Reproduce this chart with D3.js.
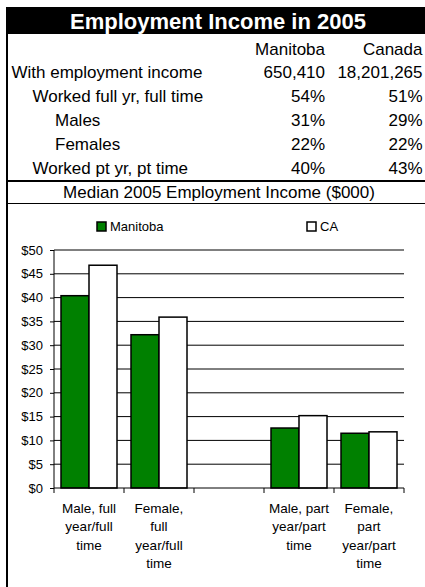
<!DOCTYPE html>
<html>
<head>
<meta charset="utf-8">
<title>Employment Income in 2005</title>
<script src="https://cdn.jsdelivr.net/npm/d3@7"></script>
<style>
  body { margin: 0; background: #fff; }
  svg { display: block; font-family: "Liberation Sans", Arial, sans-serif; }
  .grid line { stroke: #000; stroke-width: 1; }
  .axis path, .axis line { stroke: #000; }
  .axis text { font-size: 13px; fill: #000; }
</style>
</head>
<body>
<div id="chart"></div>
<script>
// table data
var tableTitle = "Employment Income in 2005";
var colHeads = ["Manitoba", "Canada"];
var rowLabels = ["With employment income", "Worked full yr, full time", "Males", "Females", "Worked pt yr, pt time"];
var rowLevel = [0, 1, 2, 2, 1];
var manitobaCol = ["650,410", "54%", "31%", "22%", "40%"];
var canadaCol = ["18,201,265", "51%", "29%", "22%", "43%"];
var chartTitle = "Median 2005 Employment Income ($000)";

// chart data
var categories = ["Male, full year/full time", "Female, full year/full time", "", "Male, part year/part time", "Female, part year/part time"];
var catLines = [["Male, full", "year/full", "time"], ["Female,", "full", "year/full", "time"], [], ["Male, part", "year/part", "time"], ["Female,", "part", "year/part", "time"]];
var seriesNames = ["Manitoba", "CA"];
var manitoba = [40.4, 32.2, null, 12.6, 11.5];
var canada = [46.8, 35.9, null, 15.2, 11.8];
var yTicks = [0, 5, 10, 15, 20, 25, 30, 35, 40, 45, 50];

var W = 425, H = 587;
var svg = d3.select("#chart").append("svg")
    .attr("width", W)
    .attr("height", H);

// ---- table part ----
svg.append("rect")
    .attr("x", 6).attr("y", 7)
    .attr("width", W - 6).attr("height", 27)
    .attr("fill", "#000");

svg.append("text")
    .attr("x", 218).attr("y", 28.5)
    .attr("text-anchor", "middle")
    .attr("fill", "#fff")
    .style("font-size", "22px")
    .style("font-weight", "bold")
    .text(tableTitle);

// left border
svg.append("line")
    .attr("x1", 7).attr("x2", 7)
    .attr("y1", 7).attr("y2", H)
    .attr("stroke", "#000").attr("stroke-width", 2);

var colRight = [325, 422.5];
var indent = [11.5, 32.5, 55];
var rowY = d3.scalePoint().domain(d3.range(rowLabels.length + 1)).range([54.5, 173.5]);

svg.selectAll(".colhead")
    .data(colHeads)
  .enter().append("text")
    .attr("class", "colhead")
    .attr("x", function(d, i) { return colRight[i]; })
    .attr("y", rowY(0))
    .attr("text-anchor", "end")
    .style("font-size", "17px")
    .text(function(d) { return d; });

var rows = svg.selectAll(".trow")
    .data(rowLabels)
  .enter().append("g")
    .attr("class", "trow")
    .attr("transform", function(d, i) { return "translate(0," + rowY(i + 1) + ")"; })
    .style("font-size", "17px");

rows.append("text")
    .attr("x", function(d, i) { return indent[rowLevel[i]]; })
    .text(function(d) { return d; });

rows.append("text")
    .attr("x", colRight[0])
    .attr("text-anchor", "end")
    .text(function(d, i) { return manitobaCol[i]; });

rows.append("text")
    .attr("x", colRight[1])
    .attr("text-anchor", "end")
    .text(function(d, i) { return canadaCol[i]; });

svg.append("line")
    .attr("x1", 7).attr("x2", W)
    .attr("y1", 181).attr("y2", 181)
    .attr("stroke", "#000").attr("stroke-width", 2);

svg.append("text")
    .attr("x", 219).attr("y", 198)
    .attr("text-anchor", "middle")
    .style("font-size", "17px")
    .text(chartTitle);

svg.append("line")
    .attr("x1", 7).attr("x2", W)
    .attr("y1", 203.5).attr("y2", 203.5)
    .attr("stroke", "#000").attr("stroke-width", 1);

// ---- bar chart ----
var color = d3.scaleOrdinal().domain(seriesNames).range(["#008000", "#ffffff"]);

var x = d3.scaleBand()
    .domain(d3.range(categories.length))
    .range([54, 404])
    .padding(0);

var xSub = d3.scaleBand()
    .domain(seriesNames)
    .range([0, x.bandwidth()])
    .paddingInner(0)
    .paddingOuter(0.25);

var y = d3.scaleLinear()
    .domain([0, 50])
    .range([488, 250]);

// gridlines
svg.append("g")
    .attr("class", "grid")
    .selectAll("line")
    .data(yTicks.slice(1))
  .enter().append("line")
    .attr("x1", 54).attr("x2", 404)
    .attr("y1", function(d) { return y(d); })
    .attr("y2", function(d) { return y(d); });

// y axis
var yAxis = svg.append("g")
    .attr("class", "axis")
    .attr("transform", "translate(54,0)")
    .call(d3.axisLeft(y)
        .tickValues(yTicks)
        .tickSize(4)
        .tickPadding(7)
        .tickFormat(function(d) { return "$" + d; }));
yAxis.select(".domain").attr("d", "M0," + y(0) + "V" + y(50));

// bars
var series = [manitoba, canada];
var barData = [];
categories.forEach(function(c, i) {
    seriesNames.forEach(function(s, j) {
        if (series[j][i] != null) barData.push({cat: i, name: s, value: series[j][i]});
    });
});

svg.append("g")
    .selectAll("rect")
    .data(barData)
  .enter().append("rect")
    .attr("x", function(d) { return x(d.cat) + xSub(d.name); })
    .attr("y", function(d) { return y(d.value); })
    .attr("width", xSub.bandwidth())
    .attr("height", function(d) { return y(0) - y(d.value); })
    .attr("fill", function(d) { return color(d.name); })
    .attr("stroke", "#000")
    .attr("stroke-width", 1.5);

// x axis: line plus ticks at category boundaries
var xAxisG = svg.append("g").attr("class", "axis");
xAxisG.append("line")
    .attr("x1", 54).attr("x2", 404)
    .attr("y1", y(0)).attr("y2", y(0));
xAxisG.selectAll(".xtick")
    .data(d3.range(categories.length + 1))
  .enter().append("line")
    .attr("class", "xtick")
    .attr("x1", function(d) { return d < categories.length ? x(d) : x.range()[1]; })
    .attr("x2", function(d) { return d < categories.length ? x(d) : x.range()[1]; })
    .attr("y1", y(0)).attr("y2", y(0) + 5);

// category labels
var catLabel = svg.append("g")
    .selectAll("text")
    .data(catLines)
  .enter().append("text")
    .attr("text-anchor", "middle")
    .attr("x", function(d, i) { return x(i) + x.bandwidth() / 2; })
    .attr("y", 513)
    .style("font-size", "13.5px");

catLabel.selectAll("tspan")
    .data(function(d) { return d; })
  .enter().append("tspan")
    .attr("x", function() { return d3.select(this.parentNode).attr("x"); })
    .attr("dy", function(d, i) { return i === 0 ? 0 : 18.3; })
    .text(function(d) { return d; });

// legend
var legendX = [97, 307];
var legend = svg.append("g")
    .selectAll("g")
    .data(seriesNames)
  .enter().append("g")
    .attr("transform", function(d, i) { return "translate(" + legendX[i] + ",222)"; });

legend.append("rect")
    .attr("width", 9).attr("height", 9)
    .attr("fill", function(d) { return color(d); })
    .attr("stroke", "#000")
    .attr("stroke-width", 1.5);

legend.append("text")
    .attr("x", 13)
    .attr("y", 9)
    .style("font-size", "13px")
    .text(function(d) { return d; });
</script>
</body>
</html>
